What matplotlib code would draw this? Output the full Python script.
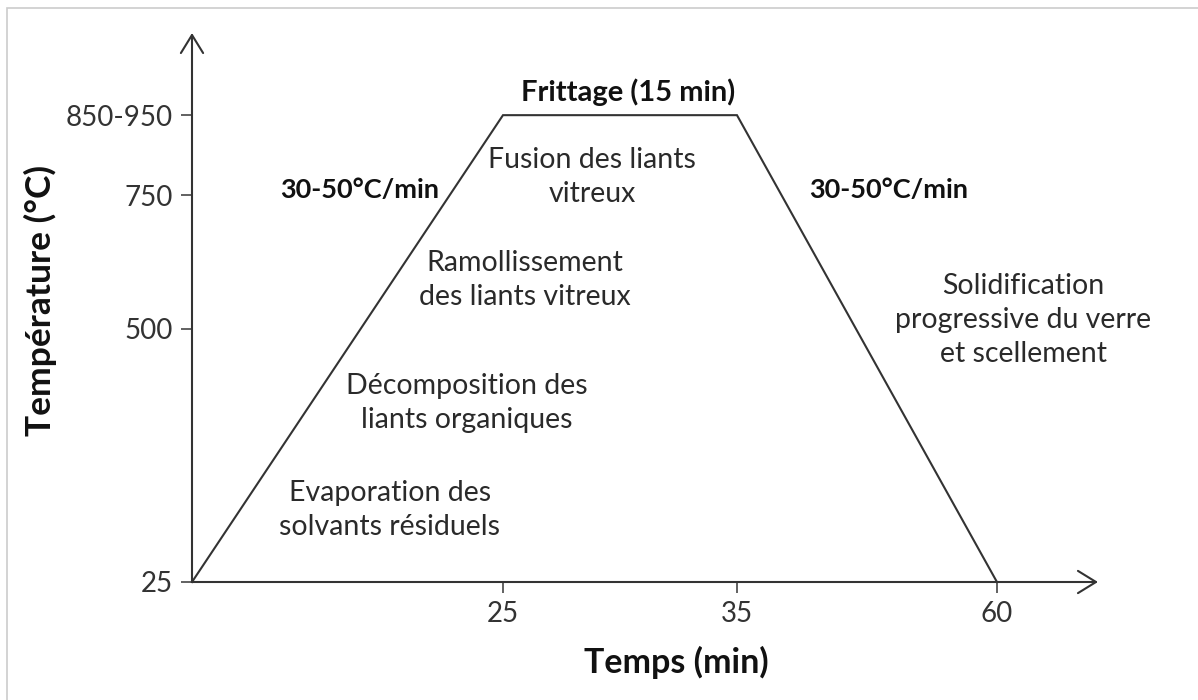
import numpy as np
import matplotlib.pyplot as plt
from matplotlib.patches import Rectangle

plt.rcParams['font.family'] = ['Lato', 'DejaVu Sans']

# profil de cuisson
temps = [0, 25, 35, 60]
temperature = [25, 900, 900, 25]

x_ticks = [25, 35, 60]
y_ticks = [25, 500, 750, 900]
y_tick_labels = ['25', '500', '750', '850-950']

etapes = ['Evaporation des\nsolvants résiduels',
          'Décomposition des\nliants organiques',
          'Ramollissement\ndes liants vitreux',
          'Fusion des liants\nvitreux',
          'Solidification\nprogressive du verre\net scellement']

# the time axis of the original sketch is not proportional
x_knots = [0, 25, 35, 60, 80]
x_pos = [0, 311, 545, 805, 1020]


def fwd(x):
    return np.interp(x, x_knots, x_pos)


def inv(p):
    return np.interp(p, x_pos, x_knots)


W, H = 1198, 700
fig = plt.figure(figsize=(W / 100, H / 100), dpi=100)


def px(x, y):
    return x / W, 1 - y / H


ax = fig.add_axes([192 / W, 1 - 582 / H, 906 / W, (582 - 33) / H])
ax.set_xscale('function', functions=(fwd, inv))
ax.set_xlim(0, 69.4)
ax.set_ylim(25, 1054)

c = '#333333'
ax.plot(temps, temperature, color=c, lw=1.5, solid_joinstyle='miter', clip_on=False)

for s in ax.spines.values():
    s.set_visible(False)

arrow = dict(arrowstyle='->,head_length=0.65,head_width=0.4', lw=1.5, color=c,
             mutation_scale=20, shrinkA=0, shrinkB=0)
ax.annotate('', xy=(1, 0), xytext=(0, 0), xycoords='axes fraction', arrowprops=arrow)
ax.annotate('', xy=(0, 1), xytext=(0, 0), xycoords='axes fraction', arrowprops=arrow)

ax.set_xticks(x_ticks)
ax.set_xticklabels([str(t) for t in x_ticks])
ax.set_yticks(y_ticks)
ax.set_yticklabels(y_tick_labels)
ax.xaxis.set_minor_locator(plt.NullLocator())
ax.tick_params(direction='out', length=8, width=1.3, color='#555555',
               labelsize=20, labelcolor='#333333', pad=6)

txt = '#2a2a2a'
fig.text(*px(676, 662), 'Temps (min)', fontsize=24.5, fontweight='bold', color='#111111',
         ha='center', va='center')
fig.text(*px(40, 300), 'Température (°C)', fontsize=25.5, fontweight='bold', color='#111111',
         ha='center', va='center', rotation=90)

fig.text(*px(628, 92), 'Frittage (15 min)', fontsize=21, fontweight='bold', color='#111111',
         ha='center', va='center')
fig.text(*px(360, 190), '30-50°C/min', fontsize=19.5, fontweight='bold', color='#111111',
         ha='center', va='center')
fig.text(*px(889, 190), '30-50°C/min', fontsize=19.5, fontweight='bold', color='#111111',
         ha='center', va='center')

centres = [(390, 510), (467, 403), (525, 280), (592, 177), (1023, 320)]
for e, (cx, cy) in zip(etapes, centres):
    fig.text(*px(cx, cy), e, fontsize=20.5, color=txt, ha='center', va='center',
             linespacing=1.4)

fig.add_artist(Rectangle(px(7, 760), 1.2, (760 - 8) / H, transform=fig.transFigure,
                         fill=False, edgecolor='#cccccc', lw=1.2))

fig.savefig('out.png', dpi=100)
